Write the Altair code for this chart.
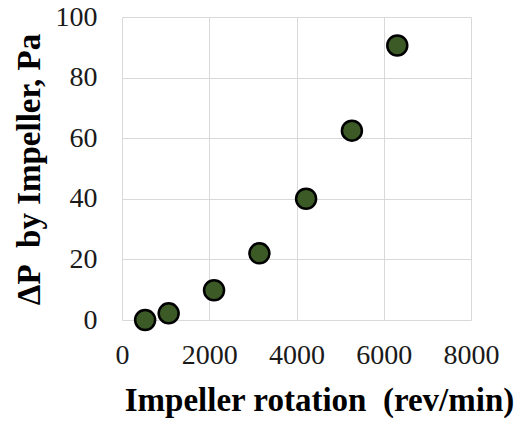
import altair as alt
import pandas as pd

# Impeller speed (rev/min) and pressure rise across the impeller (Pa)
rotation_rpm = [530, 1070, 2110, 3150, 4220, 5270, 6310]
pressure_pa = [0.0, 2.2, 9.8, 22.0, 40.0, 62.5, 90.6]

x_ticks = [0, 2000, 4000, 6000, 8000]
y_ticks = [0, 20, 40, 60, 80, 100]

df = pd.DataFrame({"rpm": rotation_rpm, "dp": pressure_pa})

FONT = "Liberation Serif"

points = alt.Chart(df).mark_point(
    shape="circle",
    filled=True,
    fill="#3b5a25",
    stroke="#000000",
    strokeWidth=2.5,
    size=400,
    opacity=1,
).encode(
    x=alt.X(
        "rpm:Q",
        scale=alt.Scale(domain=[0, 8000], nice=False),
        axis=alt.Axis(
            values=x_ticks,
            format="d",
            title="Impeller rotation\u00a0\u00a0(rev/min)",
            titleFont=FONT,
            titleFontSize=33,
            titleFontWeight="bold",
            titleColor="#000000",
            titleAlign="center",
            titleBaseline="alphabetic",
            titleX=197,
            titleY=90,
            labelFont=FONT,
            labelFontSize=28,
            labelColor="#1a1a1a",
            labelPadding=21,
            labelFlush=False,
            ticks=False,
            domain=False,
            grid=True,
            gridColor="#d9d9d9",
            gridWidth=1,
        ),
    ),
    y=alt.Y(
        "dp:Q",
        scale=alt.Scale(domain=[0, 100], nice=False),
        axis=alt.Axis(
            values=y_ticks,
            format="d",
            title="\u0394P\u00a0\u00a0by Impeller, Pa",
            titleFont=FONT,
            titleFontSize=33,
            titleFontWeight="bold",
            titleColor="#000000",
            titleAngle=270,
            titleAlign="center",
            titleBaseline="alphabetic",
            titleX=-83,
            titleY=152,
            labelFont=FONT,
            labelFontSize=28,
            labelColor="#1a1a1a",
            labelPadding=25,
            labelFlush=False,
            labelBaseline="middle",
            ticks=False,
            domain=False,
            grid=True,
            gridColor="#d9d9d9",
            gridWidth=1,
        ),
    ),
)

chart = points.properties(
    width=349,
    height=303,
    padding={"left": 122, "top": 17, "right": 45, "bottom": 103},
    autosize=alt.AutoSizeParams(type="none"),
    background="#ffffff",
).configure_view(stroke=None)

chart.save("out.html", embed_options={"renderer": "svg", "actions": False})
